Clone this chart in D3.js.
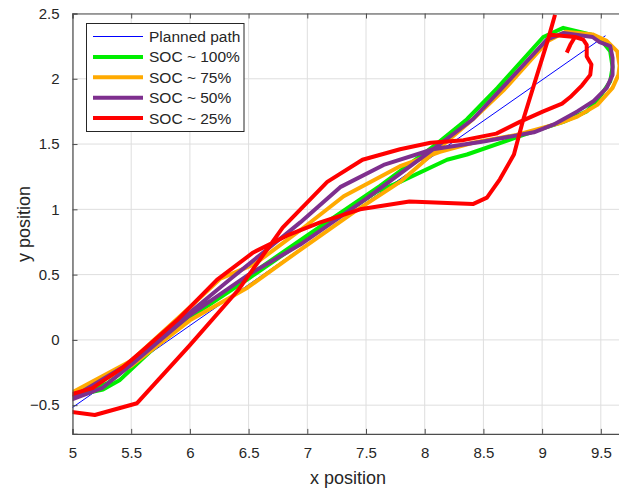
<!DOCTYPE html>
<html>
<head>
<meta charset="utf-8">
<script src="https://cdn.jsdelivr.net/npm/d3@7"></script>
<style>
  html, body { margin: 0; padding: 0; background: #fff; }
  svg { display: block; font-family: "Liberation Sans", Arial, Helvetica, sans-serif; }
</style>
</head>
<body>
<svg id="chart" width="619" height="492"></svg>
<script>
// ---------------- data ----------------
const xTicks = [5, 5.5, 6, 6.5, 7, 7.5, 8, 8.5, 9, 9.5];
const yTicks = [-0.5, 0, 0.5, 1, 1.5, 2, 2.5];
const seriesNames = ["Planned path", "SOC ~ 100%", "SOC ~ 75%", "SOC ~ 50%", "SOC ~ 25%"];
const seriesColors = ["#0000ff", "#00ee00", "#ffaa00", "#7e2f8e", "#ff0000"];

const plannedPath = [[4.98, -0.53], [9.54, 2.33]];

const soc100 = [
  [5.05,-0.42],[5.26,-0.38],[5.4,-0.31],[5.6,-0.14],[6.0,0.19],[6.32,0.38],[7.0,0.8],
  [7.62,1.18],[8.1,1.5],[8.36,1.69],[8.62,1.93],[9.01,2.32],[9.18,2.39],[9.41,2.34],
  [9.5,2.3],[9.58,2.21],[9.6,2.09],[9.58,1.98],[9.49,1.86],[9.38,1.75],[9.18,1.67],
  [9.04,1.63],[8.81,1.56],[8.36,1.42],[8.19,1.38],[7.79,1.21],[7.6,1.14],[7.0,0.78],
  [6.5,0.47],[6.0,0.17],[5.6,-0.12],[5.3,-0.33],[5.05,-0.42]
];

const soc75 = [
  [4.98,-0.43],[5.5,-0.2],[6.0,0.15],[6.49,0.4],[6.94,0.69],[7.4,0.98],[7.79,1.21],
  [8.1,1.45],[8.41,1.69],[8.68,1.92],[9.05,2.29],[9.2,2.36],[9.43,2.34],[9.55,2.29],
  [9.64,2.21],[9.66,2.1],[9.65,2.03],[9.6,1.93],[9.47,1.8],[9.3,1.71],[9.15,1.66],
  [8.78,1.57],[8.41,1.51],[8.13,1.44],[7.79,1.33],[7.31,1.1],[6.94,0.84],[6.55,0.58],
  [6.26,0.47],[6.0,0.25],[5.5,-0.16],[4.98,-0.41]
];

const soc50 = [
  [4.98,-0.46],[5.25,-0.37],[5.5,-0.19],[6.0,0.19],[6.5,0.5],[6.94,0.73],[7.5,1.08],
  [8.07,1.46],[8.41,1.69],[8.66,1.93],[9.04,2.3],[9.18,2.35],[9.43,2.32],[9.49,2.28],
  [9.58,2.25],[9.6,2.16],[9.6,2.03],[9.55,1.93],[9.44,1.83],[9.3,1.75],[9.1,1.65],
  [8.93,1.59],[8.5,1.52],[8.07,1.46],[7.65,1.34],[7.28,1.17],[6.94,0.9],[6.68,0.71],
  [6.35,0.47],[6.0,0.21],[5.5,-0.17],[4.98,-0.45]
];

// null = break in the drawn trace
const soc25 = [
  [4.98,-0.55],[5.19,-0.575],[5.55,-0.485],[6.0,-0.04],[6.41,0.38],[6.79,0.86],[7.17,1.21],
  [7.47,1.38],[7.79,1.46],[8.05,1.51],[8.33,1.53],[8.61,1.58],[8.81,1.67],[9.01,1.75],
  [9.17,1.81],[9.24,1.86],[9.34,1.95],[9.41,2.03],[9.42,2.11],[9.38,2.17],[9.38,2.26],
  [9.35,2.30],[9.28,2.32],[9.24,2.26],[9.21,2.20],
  null,
  [4.98,-0.42],[5.17,-0.37],[5.43,-0.21],[5.6,-0.08],[5.89,0.15],[6.23,0.46],[6.54,0.67],
  [6.83,0.8],[7.11,0.9],[7.45,1.0],[7.87,1.06],[8.41,1.04],[8.53,1.09],[8.64,1.23],
  [8.76,1.42],[8.84,1.69],[9.05,2.3],[9.11,2.49],
  null,
  [9.05,2.34],[9.28,2.32]
];

const allSeries = [plannedPath, soc100, soc75, soc50, soc25];
const seriesWidths = [1, 4, 4, 4, 4];

// ---------------- layout ----------------
const svg = d3.select("#chart");
const x = d3.scaleLinear().domain([5, 9.7]).range([72.5, 624.3]);
const y = d3.scaleLinear().domain([-0.72, 2.5]).range([433.9, 13.5]);
const axisColor = "#4d4d4d";
const textColor = "#262626";

svg.append("rect").attr("x", 0).attr("y", 0).attr("width", 619).attr("height", 492).attr("fill", "#fff");

const [x0, x1] = x.range();
const [yb, yt] = y.range();

svg.append("defs").append("clipPath").attr("id", "plotclip")
  .append("rect").attr("x", x0).attr("y", yt).attr("width", x1 - x0).attr("height", yb - yt);

// grid
const grid = svg.append("g");
grid.selectAll("line.gx").data(xTicks).enter().append("line")
  .attr("x1", d => x(d)).attr("x2", d => x(d)).attr("y1", yt).attr("y2", yb)
  .attr("stroke", "#dedede").attr("stroke-width", 1);
grid.selectAll("line.gy").data(yTicks).enter().append("line")
  .attr("x1", x0).attr("x2", x1).attr("y1", d => y(d)).attr("y2", d => y(d))
  .attr("stroke", "#dedede").attr("stroke-width", 1);

// series
const line = d3.line().defined(d => d !== null).x(d => x(d[0])).y(d => y(d[1]));
const plot = svg.append("g").attr("clip-path", "url(#plotclip)");
allSeries.forEach((s, i) => {
  plot.append("path").attr("d", line(s))
    .attr("fill", "none").attr("stroke", seriesColors[i])
    .attr("stroke-width", seriesWidths[i]).attr("stroke-linejoin", "round");
});

// axes (ticks inward, MATLAB style)
const bottomAxis = d3.axisBottom(x).tickValues(xTicks).tickSize(-5).tickFormat(d3.format("~g")).tickPadding(13);
const gx = svg.append("g").attr("transform", `translate(0,${yb})`).call(bottomAxis);
const topAxis = d3.axisTop(x).tickValues(xTicks).tickSize(-5).tickFormat("");
const gxt = svg.append("g").attr("transform", `translate(0,${yt})`).call(topAxis);
const leftAxis = d3.axisLeft(y).tickValues(yTicks).tickSize(-5).tickFormat(d3.format("~g")).tickPadding(13);
const gy = svg.append("g").attr("transform", `translate(${x0},0)`).call(leftAxis);

[gx, gxt, gy].forEach(g => {
  g.select(".domain").attr("stroke", axisColor).attr("stroke-width", 1.2);
  g.selectAll(".tick line").attr("stroke", axisColor);
  g.selectAll(".tick text").attr("fill", textColor).style("font-size", "15px")
    .style("font-family", '"Liberation Sans", Arial, sans-serif');
});

// axis labels
svg.append("text").attr("x", 348).attr("y", 484).attr("text-anchor", "middle")
  .attr("fill", textColor).style("font-size", "18px").text("x position");
svg.append("text").attr("transform", `translate(30,224) rotate(-90)`).attr("text-anchor", "middle")
  .attr("fill", textColor).style("font-size", "18px").text("y position");

// legend
const lg = svg.append("g");
lg.append("rect").attr("x", 86.5).attr("y", 23.5).attr("width", 157.5).attr("height", 108)
  .attr("fill", "#fff").attr("stroke", textColor).attr("stroke-width", 1);
seriesNames.forEach((name, i) => {
  const yy = 36.5 + i * 20.4;
  lg.append("line").attr("x1", 93).attr("x2", 143).attr("y1", yy).attr("y2", yy)
    .attr("stroke", seriesColors[i]).attr("stroke-width", seriesWidths[i]);
  lg.append("text").attr("x", 149).attr("y", yy).attr("dy", "0.35em")
    .attr("fill", textColor).style("font-size", "15.5px").text(name);
});
</script>
</body>
</html>
